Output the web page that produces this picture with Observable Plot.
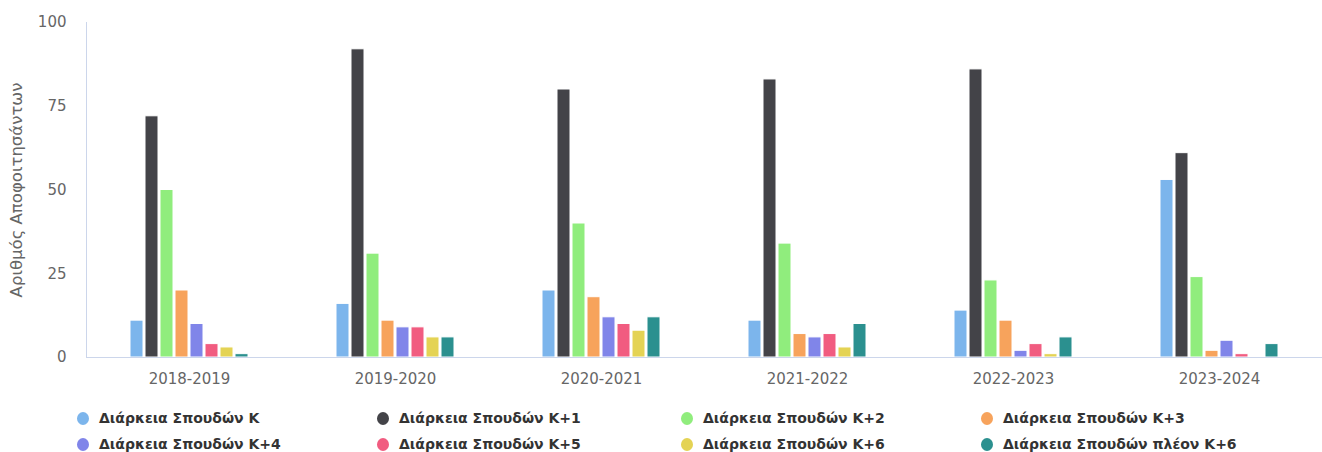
<!DOCTYPE html>
<html>
<head>
<meta charset="utf-8">
<script src="https://cdn.jsdelivr.net/npm/d3@7"></script>
<script src="https://cdn.jsdelivr.net/npm/@observablehq/plot@0.6"></script>
<style>
  body { margin: 0; background: #fff; }
  #legend {
    display: grid;
    grid-template-columns: 300px 304px 300px 300px;
    padding: 10px 0 0 77px;
    font-family: "DejaVu Sans", sans-serif;
    font-weight: bold;
    font-size: 14px;
    color: #333;
  }
  .item { display: flex; align-items: center; height: 26px; white-space: nowrap; }
  .dot { width: 12px; height: 13px; border-radius: 50%; margin-right: 10px; flex: none; }
  #chart svg g[aria-label="y-axis label"] text { font-size: 16.5px; }
</style>
</head>
<body>
<div id="chart"></div>
<div id="legend"></div>
<script>
const years = ["2018-2019", "2019-2020", "2020-2021", "2021-2022", "2022-2023", "2023-2024"];
const seriesNames = [
  "Διάρκεια Σπουδών Κ",
  "Διάρκεια Σπουδών Κ+1",
  "Διάρκεια Σπουδών Κ+2",
  "Διάρκεια Σπουδών Κ+3",
  "Διάρκεια Σπουδών Κ+4",
  "Διάρκεια Σπουδών Κ+5",
  "Διάρκεια Σπουδών Κ+6",
  "Διάρκεια Σπουδών πλέον Κ+6"
];
const colors = ["#7cb5ec", "#434348", "#90ed7d", "#f7a35c", "#8085e9", "#f15c80", "#e4d354", "#2b908f"];

const valuesK     = [11, 16, 20, 11, 14, 53];
const valuesK1    = [72, 92, 80, 83, 86, 61];
const valuesK2    = [50, 31, 40, 34, 23, 24];
const valuesK3    = [20, 11, 18, 7, 11, 2];
const valuesK4    = [10, 9, 12, 6, 2, 5];
const valuesK5    = [4, 9, 10, 7, 4, 1];
const valuesK6    = [3, 6, 8, 3, 1, 0];
const valuesMore6 = [1, 6, 12, 10, 6, 4];
const yTicks = [0, 25, 50, 75, 100];
const yLabel = "Αριθμός Αποφοιτησάντων";

const allValues = [valuesK, valuesK1, valuesK2, valuesK3, valuesK4, valuesK5, valuesK6, valuesMore6];
const table = [];
years.forEach((yr, i) => {
  seriesNames.forEach((s, j) => {
    table.push({year: yr, series: s, value: allValues[j][i]});
  });
});

const W = 1322, H = 395, mL = 86, mB = 38, mT = 22;

const plot = Plot.plot({
  width: W,
  height: H,
  marginLeft: mL,
  marginRight: 0,
  marginTop: mT,
  marginBottom: mB,
  style: {fontFamily: "DejaVu Sans, sans-serif", fontSize: "15px", color: "#666", background: "#fff"},
  fx: {domain: years, paddingInner: 0.398, paddingOuter: 0.199, axis: "bottom", tickSize: 0, tickPadding: 16, label: null},
  x: {domain: seriesNames, padding: 0.13, axis: null},
  y: {domain: [0, 100], ticks: yTicks, tickSize: 0, tickPadding: 61, label: yLabel, labelAnchor: "center", labelArrow: "none", labelOffset: 117},
  color: {domain: seriesNames, range: colors},
  marks: [
    Plot.barY(table, {fx: "year", x: "series", y: "value", fill: "series", stroke: "white", strokeWidth: 1})
  ]
});

document.getElementById("chart").appendChild(plot);

// axis lines across the full frame using the plot's y scale
const ys = plot.scale("y");
const svg = d3.select(plot);
svg.append("line")
  .attr("x1", mL).attr("x2", W)
  .attr("y1", ys.apply(0) + 0.5).attr("y2", ys.apply(0) + 0.5)
  .attr("stroke", "#ccd6eb");
svg.append("line")
  .attr("x1", mL + 0.5).attr("x2", mL + 0.5)
  .attr("y1", ys.apply(100)).attr("y2", ys.apply(0))
  .attr("stroke", "#ccd6eb");

// legend
const legend = d3.select("#legend");
seriesNames.forEach((s, i) => {
  const it = legend.append("div").attr("class", "item");
  it.append("span").attr("class", "dot").style("background", colors[i]);
  it.append("span").text(s);
});
</script>
</body>
</html>
